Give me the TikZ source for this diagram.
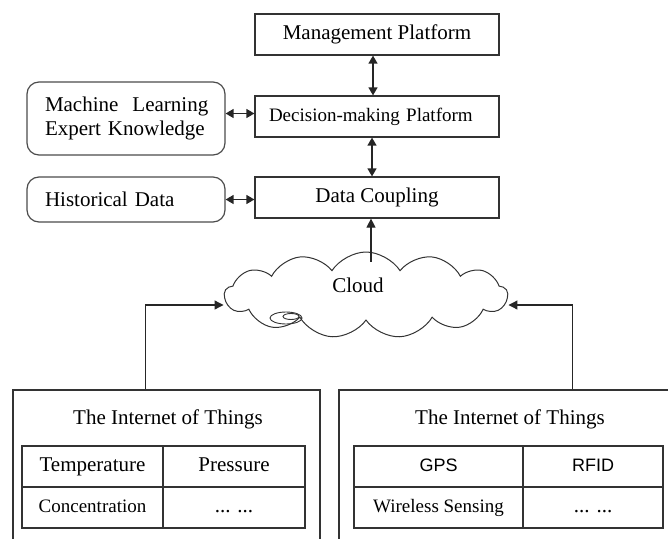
\documentclass[tikz,border=0pt]{standalone}
\usepackage{fontspec}
\setmainfont{Liberation Serif}
\newfontfamily\arialfont{Liberation Sans}
\usepackage{tikz}
\usetikzlibrary{shapes.symbols, arrows.meta, positioning, calc}

\tikzset{
    box/.style={draw=black!80, line width=1.2pt, minimum width=244, minimum height=41,
                inner sep=0, font=\fontsize{21}{25}\selectfont},
    rbox/.style={draw=black!70, line width=1.2pt, rounded corners=12, minimum width=198,
                 text width=162, inner xsep=18, inner ysep=0, align=left,
                 font=\fontsize{21}{24}\selectfont},
    iotbox/.style={draw=black!80, line width=1.2pt, minimum height=155, inner sep=0},
    cell/.style={draw=black!80, line width=1.2pt, minimum height=41, inner sep=0,
                 text height=14, text depth=4, font=\fontsize{21}{25}\selectfont},
    dbl/.style={{Triangle[length=8pt,width=9pt]}-{Triangle[length=8pt,width=9pt]},
                line width=1.3pt, black!85},
    arr/.style={-{Triangle[length=9pt,width=9pt]}, line width=1.2pt, black!85},
}

\begin{document}
\begin{tikzpicture}[x=1pt, y=-1pt]
    \clip (0,0) rectangle (668,538);
    \node[box] (mp) at (377,34.5) {Management Platform};
    \node[box, text width=216, inner xsep=14, align=left,
          font=\fontsize{19}{23}\selectfont] (dm) at (377,116.5) {Decision-making Platform};
    \node[box] (dc) at (377,197.5) {Data Coupling};
    \node[rbox, minimum height=73] (ml) at (126,118.5) {\mbox{Machine\ \ Learning}\\Expert Knowledge};
    \node[rbox, minimum height=45] (hd) at (126,199.5) {Historical Data};

    \draw[dbl] ([xshift=-4]mp.south) -- ([xshift=-4]dm.north);
    \draw[dbl] ([xshift=-5]dm.south) -- ([xshift=-5]dc.north);
    \draw[dbl] ([yshift=5]ml.east) -- ([yshift=5]ml.east -| dm.west);
    \draw[dbl] (hd.east) -- (hd.east -| dc.west);

    \node[cloud, cloud puffs=13, cloud puff arc=115, aspect=3.3, draw=black!80,
          line width=1pt, minimum width=283, minimum height=86] (cloud) at (366,295) {};
    \node[font=\fontsize{21}{25}\selectfont] (cloudtxt) at (358,285) {Cloud};
    \draw[black!80, line width=0.9pt] (286,318) ellipse (16 and 6);
    \draw[black!80, line width=0.9pt] (291,316.5) ellipse (8 and 3);

    \node[iotbox, minimum width=307] (iotL) at (166.4,467.5) {};
    \node[iotbox, minimum width=342] (iotR) at (510,467.5) {};
    \node[font=\fontsize{21}{25}\selectfont] (titleL) at (168,419) {The Internet of Things};
    \node[font=\fontsize{21}{25}\selectfont] (titleR) at (510,419) {The Internet of Things};

    \node[cell, minimum width=141] (tL1) at (92.5,466.5) {Temperature};
    \node[cell, minimum width=142] (tL2) at (234,466.5) {Pressure};
    \node[cell, minimum width=141, font=\fontsize{19}{23}\selectfont] (tL3) at (92.5,507.5) {Concentration};
    \node[cell, minimum width=142] (tL4) at (234,507.5) {... ...};
    \node[cell, minimum width=169, font=\arialfont\fontsize{18}{22}\selectfont] (tR1) at (438.5,466.5) {GPS};
    \node[cell, minimum width=140, font=\arialfont\fontsize{18}{22}\selectfont] (tR2) at (593,466.5) {RFID};
    \node[cell, minimum width=169, font=\fontsize{19}{23}\selectfont] (tR3) at (438.5,507.5) {Wireless Sensing};
    \node[cell, minimum width=140] (tR4) at (593,507.5) {... ...};

    \draw[arr] ([shift={(5,10)}]cloud.north) coordinate (ctop) -- (ctop |- dc.south);
    \draw[arr] ([xshift=-21]iotL.north) |- ([yshift=-10]cloud.west);
    \draw[arr] ([xshift=62.5]iotR.north) |- ([yshift=-10]cloud.east);
\end{tikzpicture}
\end{document}
